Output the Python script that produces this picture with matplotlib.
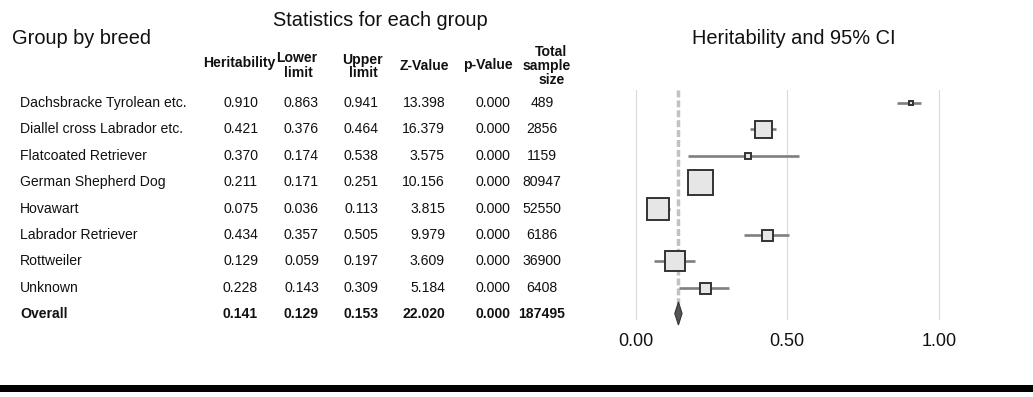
import matplotlib
matplotlib.use("Agg")
import matplotlib.pyplot as plt
from matplotlib.patches import Rectangle, Polygon

# ---------------- data ----------------
groups = ["Dachsbracke Tyrolean etc.", "Diallel cross Labrador etc.", "Flatcoated Retriever",
          "German Shepherd Dog", "Hovawart", "Labrador Retriever", "Rottweiler", "Unknown"]
heritability = [0.910, 0.421, 0.370, 0.211, 0.075, 0.434, 0.129, 0.228]
lower_limit = [0.863, 0.376, 0.174, 0.171, 0.036, 0.357, 0.059, 0.143]
upper_limit = [0.941, 0.464, 0.538, 0.251, 0.113, 0.505, 0.197, 0.309]
z_value = [13.398, 16.379, 3.575, 10.156, 3.815, 9.979, 3.609, 5.184]
p_value = [0.000, 0.000, 0.000, 0.000, 0.000, 0.000, 0.000, 0.000]
sample_size = [489, 2856, 1159, 80947, 52550, 6186, 36900, 6408]
box_weight = [4, 17, 6, 25, 23, 11, 20, 11]   # relative study weight (box side)

overall_label = "Overall"
overall_h = 0.141
overall_lower = 0.129
overall_upper = 0.153
overall_z = 22.020
overall_p = 0.000
overall_n = 187495

xticks = [0.0, 0.5, 1.0]
xtick_labels = ["0.00", "0.50", "1.00"]

# ---------------- figure ----------------
W, H = 1033, 397
DPI = 100
plt.rcParams["font.family"] = ["Liberation Sans", "DejaVu Sans"]
fig = plt.figure(figsize=(W / DPI, H / DPI), dpi=DPI)
fig.patch.set_facecolor("white")


def fx(x):
    return x / W


def fy(y):
    return 1 - y / H


SMALL = 10.1
BIG = 14.4
TXT = "#111111"

# Titles
fig.text(fx(12), fy(39), "Group by breed", fontsize=BIG, ha="left", va="center", color=TXT)
fig.text(fx(380), fy(21), "Statistics for each group", fontsize=BIG, ha="center", va="center", color=TXT)
fig.text(fx(794), fy(39), "Heritability and 95% CI", fontsize=BIG, ha="center", va="center", color=TXT)

# Column headers (bold)
hdr = dict(fontsize=SMALL, fontweight="bold", ha="center", va="center", color=TXT)
fig.text(fx(239), fy(63), "Heritability", **hdr)
fig.text(fx(297), fy(58), "Lower", **hdr)
fig.text(fx(298), fy(73), "limit", **hdr)
fig.text(fx(362), fy(60), "Upper", **hdr)
fig.text(fx(363), fy(73), "limit", **hdr)
fig.text(fx(424), fy(66), "Z-Value", **hdr)
fig.text(fx(488), fy(65), "p-Value", **hdr)
fig.text(fx(551), fy(52), "Total", **hdr)
fig.text(fx(547), fy(66), "sample", **hdr)
fig.text(fx(552), fy(80), "size", **hdr)

# Table rows
row_y0 = 103
row_dy = 26.4
overall_y = 313.5
cols = [
    (240.5, "center"),
    (301.5, "center"),
    (361, "center"),
    (445, "right"),
    (492.5, "center"),
    (542, "center"),
]


def draw_row(ypx, name, vals, weight):
    y = fy(ypx)
    fig.text(fx(20), y, name, fontsize=SMALL, fontweight=weight, ha="left", va="center", color=TXT)
    for (cx, ha), v in zip(cols, vals):
        fig.text(fx(cx), y, v, fontsize=SMALL, fontweight=weight, ha=ha, va="center", color=TXT)


for i, g in enumerate(groups):
    vals = [f"{heritability[i]:.3f}", f"{lower_limit[i]:.3f}", f"{upper_limit[i]:.3f}",
            f"{z_value[i]:.3f}", f"{p_value[i]:.3f}", f"{sample_size[i]}"]
    draw_row(row_y0 + row_dy * i, g, vals, "normal")

n = len(groups)
draw_row(overall_y, overall_label,
         [f"{overall_h:.3f}", f"{overall_lower:.3f}", f"{overall_upper:.3f}",
          f"{overall_z:.3f}", f"{overall_p:.3f}", f"{overall_n}"], "bold")

# ---------------- forest plot ----------------
x0_px, scale_px = 635.7, 303.0
ax_left, ax_right, ax_top, ax_bot = 610, 1010, 90, 320
ax = fig.add_axes([fx(ax_left), fy(ax_bot), (ax_right - ax_left) / W, (ax_bot - ax_top) / H])
ax.set_xlim((ax_left - x0_px) / scale_px, (ax_right - x0_px) / scale_px)
ax.set_ylim((ax_bot - row_y0) / row_dy, (ax_top - row_y0) / row_dy)
for s in ax.spines.values():
    s.set_visible(False)
ax.set_yticks([])
ax.set_xticks(xticks)
ax.set_xticklabels(xtick_labels, fontsize=13, color=TXT)
ax.tick_params(axis="x", length=0, pad=9)
for xt in xticks:
    ax.axvline(xt, color="#d9d9d9", lw=0.8, zorder=0)

overall_pos = (overall_y - row_y0) / row_dy
half_h = 11.5 / row_dy

# overall dashed reference line
ax.plot([overall_h, overall_h], [(ax_top - row_y0) / row_dy, overall_pos - half_h + 0.05],
        color="#c2c2c2", lw=2.5, linestyle=(0, (2.0, 0.85)), zorder=1, solid_capstyle="butt")

for i in range(n):
    ax.plot([lower_limit[i], upper_limit[i]], [i, i], color="#7f7f7f", lw=1.9,
            solid_capstyle="butt", zorder=2)
    ax.plot([heritability[i]], [i], marker="s", markersize=box_weight[i] * 0.72,
            markerfacecolor="#e6e6e6", markeredgecolor="#333333", markeredgewidth=1.4,
            linestyle="none", zorder=3)

diamond = Polygon([(overall_lower, overall_pos), (overall_h, overall_pos - half_h),
                   (overall_upper, overall_pos), (overall_h, overall_pos + half_h)],
                  closed=True, facecolor="#555555", edgecolor="#333333", lw=0.8, zorder=4,
                  clip_on=False)
ax.add_patch(diamond)

# bottom black bar
fig.add_artist(Rectangle((0, fy(392)), 1, (392 - 385) / H, transform=fig.transFigure,
                         facecolor="black", edgecolor="none"))

fig.savefig("out.png", dpi=DPI, facecolor="white")
